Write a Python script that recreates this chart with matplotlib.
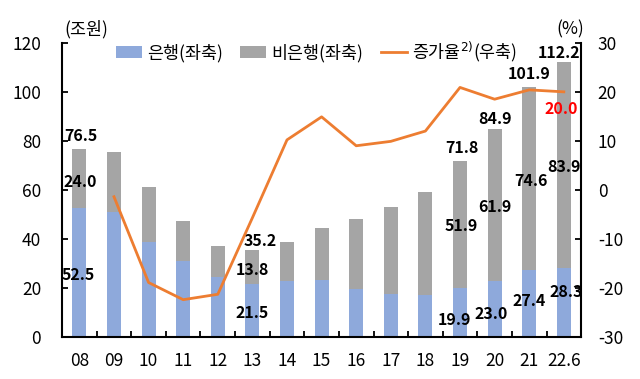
import numpy as np
import matplotlib.pyplot as plt
from matplotlib.ticker import FixedLocator

plt.rcParams['font.family'] = ['Noto Sans CJK KR', 'DejaVu Sans']
plt.rcParams['axes.unicode_minus'] = False

# data
years = ['08', '09', '10', '11', '12', '13', '14', '15', '16', '17', '18', '19', '20', '21', '22.6']
bank = [52.5, 51.1, 38.9, 31.0, 24.4, 21.5, 22.9, 23.3, 19.5, 17.4, 17.0, 19.9, 23.0, 27.4, 28.3]
nonbank = [24.0, 24.4, 22.2, 16.3, 12.9, 13.8, 15.8, 21.1, 28.7, 35.5, 42.3, 51.9, 61.9, 74.6, 83.9]
growth = [np.nan, -1.4, -18.9, -22.4, -21.3, -5.7, 10.2, 14.9, 9.0, 9.9, 12.0, 20.9, 18.5, 20.4, 20.0]
# totals as printed in the source (rounded separately)
total_printed = {0: 76.5, 5: 35.2, 11: 71.8, 12: 84.9, 13: 101.9, 14: 112.2}

# label offsets in pixels (dx, dy) for the printed values
total_off = {0: (1, 13), 5: (8, 9), 11: (2, 13), 12: (0, 10), 13: (0, 13), 14: (-5, 9)}
nonbank_off = {0: (1, -3), 5: (0, -3), 11: (1, -1), 12: (0, -2), 13: (2, -3), 14: (0, -2)}
bank_off = {0: (-1, -2), 5: (0, -2), 11: (-6, -7), 12: (-3, -5), 13: (0, 2), 14: (2, 10)}

c_bank = '#8EA9DB'
c_nonbank = '#A5A5A5'
c_line = '#ED7D31'

x = np.arange(len(years))
bank = np.array(bank)
nonbank = np.array(nonbank)
total = bank + nonbank

fig = plt.figure(figsize=(6.4, 3.79), dpi=100)
ax = fig.add_axes([0.097, 0.111, 0.811, 0.776])
ax2 = ax.twinx()

ax.bar(x, bank, width=0.4, color=c_bank, label='은행(좌축)', zorder=2)
ax.bar(x, nonbank, width=0.4, bottom=bank, color=c_nonbank, label='비은행(좌축)', zorder=2)
ax2.plot(x, growth, color=c_line, lw=2.0, label='증가율$^{2)}$(우축)', zorder=3)

ax.set_xlim(-0.5, len(years) - 0.5)
ax.set_ylim(0, 120)
ax2.set_ylim(-30, 30)
ax.set_yticks(np.arange(0, 121, 20))
ax2.set_yticks(np.arange(-30, 31, 10))
ax.set_xticks(x)
ax.set_xticklabels(years)
ax.xaxis.set_minor_locator(FixedLocator(np.arange(-0.5, len(years), 1.0)))
ax.tick_params(axis='x', which='major', length=0, labelsize=12.5, pad=11)
ax.tick_params(axis='x', which='minor', direction='in', length=4, width=1.3)
ax.tick_params(axis='y', direction='in', length=4, width=1.3, labelsize=12.5, pad=15)
ax2.tick_params(axis='y', direction='in', length=4, width=1.3, labelsize=12.5, pad=12)

for a in (ax, ax2):
    a.spines['top'].set_visible(False)
    for s in ('left', 'right', 'bottom'):
        a.spines[s].set_linewidth(1.5)
ax.spines['right'].set_visible(False)
ax2.spines['left'].set_visible(False)
ax2.spines['bottom'].set_visible(False)

# value labels
kw = dict(textcoords='offset pixels', ha='center', va='center', fontsize=11.5,
          fontweight='bold', color='black', zorder=5)
for i, (dx, dy) in total_off.items():
    ax.annotate('%.1f' % total_printed[i], (x[i], total[i]), xytext=(dx, dy), **kw)
for i, (dx, dy) in nonbank_off.items():
    ax.annotate('%.1f' % nonbank[i], (x[i], bank[i] + nonbank[i] / 2), xytext=(dx, dy), **kw)
for i, (dx, dy) in bank_off.items():
    ax.annotate('%.1f' % bank[i], (x[i], bank[i] / 2), xytext=(dx, dy), **kw)
last = len(years) - 1
ax2.annotate('%.1f' % growth[last], (x[last], growth[last]), xytext=(-3, -17),
             textcoords='offset pixels', ha='center', va='center', fontsize=11.5,
             fontweight='bold', color='#FF0000', zorder=5)

fig.text(86 / 640, 1 - 29 / 379, '(조원)', ha='center', va='center', fontsize=12.5)
fig.text(570 / 640, 1 - 29 / 379, '(%)', ha='center', va='center', fontsize=12.5)

h1, l1 = ax.get_legend_handles_labels()
h2, l2 = ax2.get_legend_handles_labels()
ax2.legend(h1 + h2, l1 + l2, ncol=3, frameon=False, loc='center', bbox_to_anchor=(0.49, 0.97),
           fontsize=12.5, handlelength=1.5, handletextpad=0.3, columnspacing=1.0)

fig.savefig('out.png', dpi=100)
